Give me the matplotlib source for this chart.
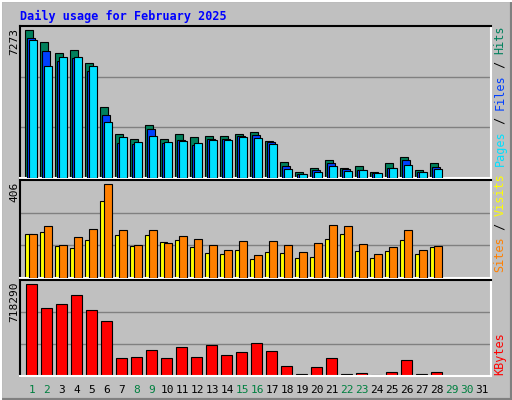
import matplotlib
matplotlib.use("Agg")
import matplotlib.pyplot as plt
from matplotlib.patches import Rectangle

days = list(range(1, 29))
hits = [7273,6680,6130,6280,5640,3460,2180,1930,2620,1930,2180,2030,2080,2080,2180,2280,1830,
        790,300,510,860,510,610,310,760,1010,410,760]
files = [6880,6230,5740,5890,5240,3070,1730,1680,2420,1730,1880,1630,1930,1930,2080,2130,1780,
         610,200,410,760,460,410,260,510,860,310,560]
pages = [6780,5490,5940,5940,5490,2770,2030,1780,2080,1780,1830,1730,1880,1880,2030,1980,1680,
         450,215,310,610,360,410,260,510,660,310,460]
sites = [190,199,137,128,164,334,185,137,185,155,164,133,107,102,120,80,111,
         107,85,89,168,190,115,85,115,164,102,133]
visits = [190,225,142,177,212,406,207,142,207,150,181,168,142,120,159,98,159,
          142,111,150,229,225,146,102,133,207,120,137]
kbytes = [718290,529500,561000,631700,513800,435100,144200,152000,207100,144200,230700,152000,
          246400,167700,191300,262100,199200,81300,13100,73400,144200,18300,26200,10500,34100,
          128400,18300,34100]
xlabels = [str(d) for d in range(1, 32)]
weekend = {1,2,8,9,15,16,22,23,29,30}

BG = "#C0C0C0"
W, H = 512, 400
fig = plt.figure(figsize=(5.12, 4.0), dpi=100, facecolor=BG)
mono = "DejaVu Sans Mono"

fig.add_artist(Rectangle((0, 0), 1, 1, transform=fig.transFigure, fill=False, ec="#808080", lw=3))
fig.add_artist(plt.Line2D([0, 1], [1-1/H, 1-1/H], color="white", lw=1.5, transform=fig.transFigure))
fig.add_artist(plt.Line2D([1/W, 1/W], [0, 1], color="white", lw=1.5, transform=fig.transFigure))

def mkax(top, bottom, ymax):
    ax = fig.add_axes([20/W, 1-bottom/H, 471/W, (bottom-top)/H])
    ax.set_facecolor(BG)
    ax.set_xlim(0.2, 31.6)
    ax.set_ylim(0, ymax)
    for g in (ymax/3, 2*ymax/3):
        ax.axhline(g, color="#808080", lw=1, zorder=0)
    ax.set_xticks([]); ax.set_yticks([])
    ax.spines["top"].set_color("black"); ax.spines["left"].set_color("black")
    ax.spines["bottom"].set_color("white"); ax.spines["right"].set_color("white")
    for s in ax.spines.values():
        s.set_linewidth(1.5)
    return ax

ax1 = mkax(26, 178, 7456)
ax2 = mkax(180, 278, 423.5)
ax3 = mkax(280, 376, 753000)

bw = 0.52
ax1.bar([d-0.47 for d in days], hits, width=bw, align="edge", color="#00805C", ec="black", lw=0.8, zorder=2)
ax1.bar([d-0.33 for d in days], files, width=bw, align="edge", color="#0040FF", ec="black", lw=0.8, zorder=3)
ax1.bar([d-0.2 for d in days], pages, width=bw, align="edge", color="#00E0FF", ec="black", lw=0.8, zorder=4)
ax2.bar([d-0.47 for d in days], sites, width=0.5, align="edge", color="#FFFF00", ec="black", lw=0.8, zorder=2)
ax2.bar([d-0.2 for d in days], visits, width=0.5, align="edge", color="#FF8000", ec="black", lw=0.8, zorder=3)
ax3.bar([d-0.4 for d in days], kbytes, width=0.7, align="edge", color="#FF0000", ec="black", lw=0.8, zorder=2)

for i, lab in enumerate(xlabels):
    d = i + 1
    fig.text((20 + (d-0.2)*15)/W, 1-390/H, lab, ha="center", va="center", family=mono, fontsize=8,
             color="#008040" if d in weekend else "black")

fig.text(20/W, 1-16/H, "Daily usage for February 2025", color="#0000FF", family=mono,
         fontsize=8.5, fontweight="bold", ha="left", va="center")

for y, val in ((28, "7273"), (182, "406"), (282, "718290")):
    fig.text(14/W, 1-y/H, val, rotation=90, ha="center", va="top", family=mono, fontsize=8)

def rlabel(ybottom, parts):
    y = ybottom
    for txt, col in parts:
        fig.text(500/W, 1-y/H, txt, rotation=90, ha="center", va="bottom", family=mono,
                 fontsize=8.5, color=col)
        y -= len(txt) * 7.0

rlabel(166, [("Pages", "#00E0FF"), (" / ", "black"), ("Files", "#0040FF"), (" / ", "black"), ("Hits", "#00805C")])
rlabel(272, [("Sites", "#FF8000"), (" / ", "black"), ("Visits", "#FFFF00")])
rlabel(375, [("KBytes", "#FF0000")])

fig.savefig("out.png", dpi=100, facecolor=BG)
